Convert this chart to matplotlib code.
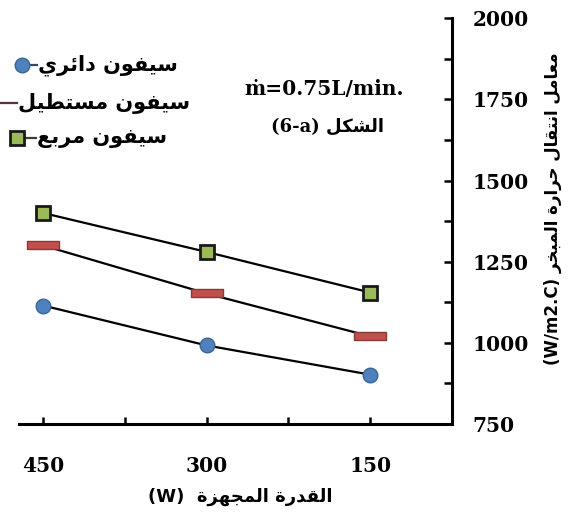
import matplotlib
matplotlib.use("Agg")
import matplotlib.pyplot as plt
from matplotlib.lines import Line2D

# data
power = [450, 300, 150]
circle_vals = [1115, 992, 902]     # سيفون دائري
rect_vals = [1300, 1152, 1020]     # سيفون مستطيل
square_vals = [1400, 1280, 1155]   # سيفون مربع

series_names = ["سيفون دائري", "سيفون مستطيل", "سيفون مربع"]
x_label_ar = "القدرة المجهزة"
y_label_ar = "معامل انتقال حرارة المبخر"
fig_label_ar = "الشكل"

x_ticks = [450, 375, 300, 225, 150, 75]
x_ticklabels = ["450", "", "300", "", "150", ""]
y_ticks = [750, 1000, 1250, 1500, 1750, 2000]
y_minor = [875, 1125, 1375, 1625, 1875]

# --- tiny arabic shaper: matplotlib has no complex text layout ---
DUAL = {"ب": 0xFE8F, "ت": 0xFE95, "ج": 0xFE9D, "ح": 0xFEA1, "خ": 0xFEA5,
        "س": 0xFEB1, "ش": 0xFEB5, "ط": 0xFEC1, "ع": 0xFEC9, "ف": 0xFED1,
        "ق": 0xFED5, "ك": 0xFED9, "ل": 0xFEDD, "م": 0xFEE1, "ن": 0xFEE5,
        "ه": 0xFEE9, "ي": 0xFEF1, "ئ": 0xFE89}
RIGHT = {"ا": 0xFE8D, "ة": 0xFE93, "د": 0xFEA9, "ر": 0xFEAD, "ز": 0xFEAF,
         "و": 0xFEED}


def shape(text):
    out = []
    for i, c in enumerate(text):
        if c not in DUAL and c not in RIGHT:
            out.append(c)
            continue
        prev = text[i - 1] if i > 0 else ""
        nxt = text[i + 1] if i + 1 < len(text) else ""
        jp = prev in DUAL
        jn = c in DUAL and (nxt in DUAL or nxt in RIGHT)
        base = DUAL.get(c, RIGHT.get(c))
        if jp and jn:
            k = 3
        elif jp:
            k = 1
        elif jn:
            k = 2
        else:
            k = 0
        out.append(chr(base + k))
    return "".join(reversed(out))


NUM_FONT = dict(family=["DejaVu Serif"], weight="bold")
AR_FONT = ["DejaVu Sans"]

fig = plt.figure(figsize=(5.71, 5.15), dpi=100)
ax = fig.add_axes([0.0333, 0.1767, 0.7583, 0.788])

ax.plot(power, circle_vals, color="black", lw=1.6, marker="o", ms=10.5,
        mfc="#4F81BD", mec="#3A6597", mew=1, zorder=3)
rect_marker = [(-1, -0.24), (1, -0.24), (1, 0.24), (-1, 0.24), (-1, -0.24)]
ax.plot(power, rect_vals, color="black", lw=1.6, marker=rect_marker, ms=23,
        mfc="#C0504D", mec="#8C3836", mew=1, zorder=3)
ax.plot(power, square_vals, color="black", lw=1.6, marker="s", ms=10.5,
        mfc="#9BBB59", mec="#1a1a1a", mew=2, zorder=3)

ax.set_xlim(472, 75)
ax.set_ylim(750, 2000)

for s in ["left", "top"]:
    ax.spines[s].set_visible(False)
for s in ["right", "bottom"]:
    ax.spines[s].set_linewidth(2.2)

ax.yaxis.tick_right()
ax.set_yticks(y_ticks)
ax.set_yticks(y_minor, minor=True)
ax.set_yticklabels([str(v) for v in y_ticks], fontdict=NUM_FONT, fontsize=14.5)
ax.set_xticks(x_ticks)
ax.set_xticklabels(x_ticklabels, fontdict=NUM_FONT, fontsize=14.5)
ax.tick_params(axis="y", which="both", direction="in", length=6, width=1.8, pad=15)
ax.tick_params(axis="x", which="both", direction="in", length=5, width=1.8, pad=23)

ax.set_xlabel("(W)  " + shape(x_label_ar), family=AR_FONT, fontsize=13,
              fontweight="bold")
ax.xaxis.set_label_coords(0.51, -0.158)
ax.yaxis.set_label_position("right")
ax.set_ylabel("(W/m2.C) " + shape(y_label_ar), family=AR_FONT, fontsize=12,
              fontweight="bold", rotation=90)
ax.yaxis.set_label_coords(1.212, 0.53)

# annotations
fig.text(324 / 571, 1 - 89 / 515, "ṁ=0.75L/min.", ha="center", va="center",
         fontsize=14.5, **NUM_FONT)
fig.text(328 / 571, 1 - 127 / 515, "(6-a) " + shape(fig_label_ar), ha="center",
         va="center", fontsize=13, family=["DejaVu Serif", "DejaVu Sans"],
         fontweight="bold")

# legend drawn by hand: marker on the left, short line, then the name
leg_rows = [
    (65, 22, 37, dict(marker="o", ms=10.5, mfc="#4F81BD", mec="#3A6597"), "#3b4660"),
    (103, 0, 17, dict(marker=rect_marker, ms=0), "#5a3040"),
    (138, 17, 36, dict(marker="s", ms=10.5, mfc="#9BBB59", mec="#1a1a1a", mew=2), "#3a3f30"),
]
for (yy, xm, xe, mk, lc), name in zip(leg_rows, series_names):
    yf = 1 - yy / 515
    fig.add_artist(Line2D([xm / 571, xe / 571], [yf, yf], color=lc, lw=1.6,
                          transform=fig.transFigure))
    fig.add_artist(Line2D([xm / 571], [yf], linestyle="none",
                          transform=fig.transFigure, **mk))
    fig.text((xe + 1) / 571, yf, shape(name), ha="left", va="center",
             fontsize=15, family=AR_FONT, fontweight="bold")

fig.savefig("out.png", dpi=100)
